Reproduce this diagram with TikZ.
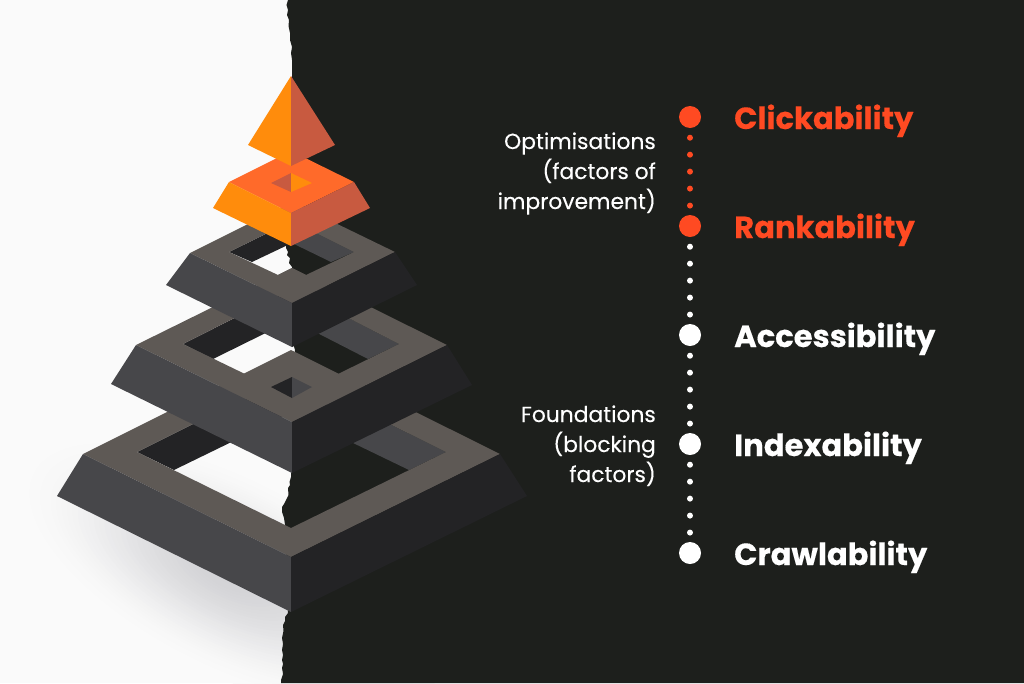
\documentclass[tikz,border=0pt]{standalone}
\usepackage{fontspec}
\setmainfont{Poppins}[BoldFeatures={FakeBold=0.25}]
\newfontfamily\notefont{Poppins}[FakeBold=0.25]
\definecolor{paper}{HTML}{FAFAFA}
\definecolor{ink}{HTML}{1D1F1C}
\definecolor{shadowc}{HTML}{D2D2D5}
\definecolor{gtop}{HTML}{5E5955}
\definecolor{gleft}{HTML}{47474A}
\definecolor{gright}{HTML}{232325}
\definecolor{otop}{HTML}{FF6A2A}
\definecolor{oleft}{HTML}{FF8C0C}
\definecolor{oright}{HTML}{C85A40}
\definecolor{accent}{HTML}{FF4A22}
\tikzset{
  bigdot/.style={circle,minimum size=22pt,inner sep=0pt,fill=#1},
  dotline/.style={draw=#1,line width=6pt,line cap=round,dash pattern=on 0.01pt off 16.95pt,dash phase=7.45pt},
  headword/.style={anchor=base west,inner sep=0pt,font=\fontsize{30.6}{31}\selectfont\bfseries,text=#1},
  sidenote/.style={anchor=base east,inner sep=0pt,font=\notefont\fontsize{21.8}{22}\selectfont,text=white},
  ftop/.style={fill=gtop,even odd rule},
  fleft/.style={fill=gleft},
  fright/.style={fill=gright}
}
\begin{document}
\begin{tikzpicture}[x=1pt,y=-1pt]
\useasboundingbox (0,0) rectangle (1024,683);
\fill[paper] (0,0) rectangle (1024,683);
% soft shadow on the paper, built from nested ellipses
\foreach \i in {0,...,40}{
  \pgfmathsetmacro{\rr}{1-\i/40}
  \pgfmathsetmacro{\mix}{100*(\i/40)*(\i/40)*(3-2*\i/40)}
  \pgfmathsetmacro{\ra}{235*\rr}
  \pgfmathsetmacro{\rb}{100*\rr}
  \fill[shadowc!\mix!paper,rotate around={-27:(228,572)}] (228,572) ellipse ({\ra pt} and {\rb pt});
}
% torn dark side
\fill[ink] (288,0) -- (286.5,5) -- (288,10) -- (287,15) -- (289,20) -- (288.5,26) -- (290,33) -- (290,40) -- (292,47) -- (291,53) -- (292,60) -- (292,76)
  -- (292,166) -- (286,248) -- (288,252) -- (287,255) -- (290,258) -- (289,263) -- (292,267)
  -- (292,340) -- (295,350) -- (292,400) -- (291,473) -- (291,477) -- (289.5,482) -- (290,485) -- (288,488) -- (288.5,495) -- (286,500) -- (284,504) -- (282,507) -- (282,512) -- (284,518) -- (285,525)
  -- (286,560) -- (288,613) -- (285,617) -- (285,621) -- (283,625) -- (283.5,631) -- (282,638) -- (283,644) -- (282,650) -- (283,655) -- (282,660) -- (283,664) -- (282,668) -- (283,674) -- (281,680) -- (281,683)
  -- (1024,683) -- (1024,0) -- cycle;
% tier 1
\fill[gright] (137,452) -- (291,375) -- (291,413) -- (174,470) -- cycle;
\fill[gleft] (446,452) -- (291,375) -- (291,413) -- (409,470) -- cycle;
\fill[ftop] (83,454) -- (291,350) -- (500,454) -- (291,557) -- cycle
  (137,452) -- (291,528) -- (446,452) -- (291,375) -- cycle;
\fill[fleft] (83,454) -- (291,557) -- (291,612) -- (57,496) -- cycle;
\fill[fright] (500,454) -- (291,557) -- (291,612) -- (527,496) -- cycle;
% tier 2
\fill[gright] (183,344) -- (292,289) -- (292,320) -- (213,359) -- cycle;
\fill[gleft] (399,344) -- (292,289) -- (292,320) -- (368,359) -- cycle;
\fill[ftop] (136,345) -- (292,268) -- (447,345) -- (292,422) -- cycle
  (183,344) -- (245,374) -- (292,352) -- (338,374) -- (399,344) -- (292,289) -- cycle;
\fill[fleft] (136,345) -- (292,422) -- (292,473) -- (111,384) -- cycle;
\fill[fright] (447,345) -- (292,422) -- (292,473) -- (472,385) -- cycle;
\fill[gright] (271,387) -- (292,377) -- (292,398) -- cycle;
\fill[gleft] (312,387) -- (292,377) -- (292,398) -- cycle;
% tier 3
\fill[gright] (229,252) -- (292,221) -- (292,243) -- (252,262) -- cycle;
\fill[gleft] (354,252) -- (292,221) -- (292,243) -- (331,262) -- cycle;
\fill[ftop] (190,253) -- (292,202) -- (395,252) -- (292,303) -- cycle
  (229,252) -- (278,275) -- (292,268) -- (306,275) -- (354,252) -- (292,221) -- cycle;
\fill[fleft] (190,253) -- (292,303) -- (292,347) -- (166,285) -- cycle;
\fill[fright] (395,252) -- (292,303) -- (292,347) -- (417,285) -- cycle;
% orange tier
\fill[otop] (229,182) -- (291,151) -- (354,182) -- (291,213) -- cycle;
\fill[oright] (271,183) -- (291,173) -- (291,192) -- cycle;
\fill[oleft] (312,183) -- (291,173) -- (291,192) -- cycle;
\fill[oleft] (229,182) -- (291,213) -- (291,246) -- (213,208) -- cycle;
\fill[oright] (354,182) -- (291,213) -- (291,246) -- (370,208) -- cycle;
% apex
\fill[oleft] (291,76) -- (291,166) -- (248,145) -- cycle;
\fill[oright] (291,76) -- (291,166) -- (335,145) -- cycle;
% scale
\node[bigdot=accent] (d1) at (690,117) {};
\node[bigdot=accent] (d2) at (690,226) {};
\node[bigdot=white] (d3) at (690,335) {};
\node[bigdot=white] (d4) at (690,444) {};
\node[bigdot=white] (d5) at (690,553) {};
\draw[dotline=accent] (d1) -- (d2);
\draw[dotline=white] (d2) -- (d3);
\draw[dotline=white] (d3) -- (d4);
\draw[dotline=white] (d4) -- (d5);
\node[headword=accent] (t1) at (734,129) {Clickability};
\node[headword=accent] (t2) at (734,238) {Rankability};
\node[headword=white] (t3) at (734,347) {Accessibility};
\node[headword=white] (t4) at (734,456) {Indexability};
\node[headword=white] (t5) at (734,565) {Crawlability};
\node[sidenote] (n1) at (656,149) {Optimisations};
\node[sidenote] (n2) at (656,179) {(factors of};
\node[sidenote] (n3) at (656,209) {improvement)};
\node[sidenote] (n4) at (656,422) {Foundations};
\node[sidenote] (n5) at (656,452) {(blocking};
\node[sidenote] (n6) at (656,482) {factors)};
\end{tikzpicture}
\end{document}
